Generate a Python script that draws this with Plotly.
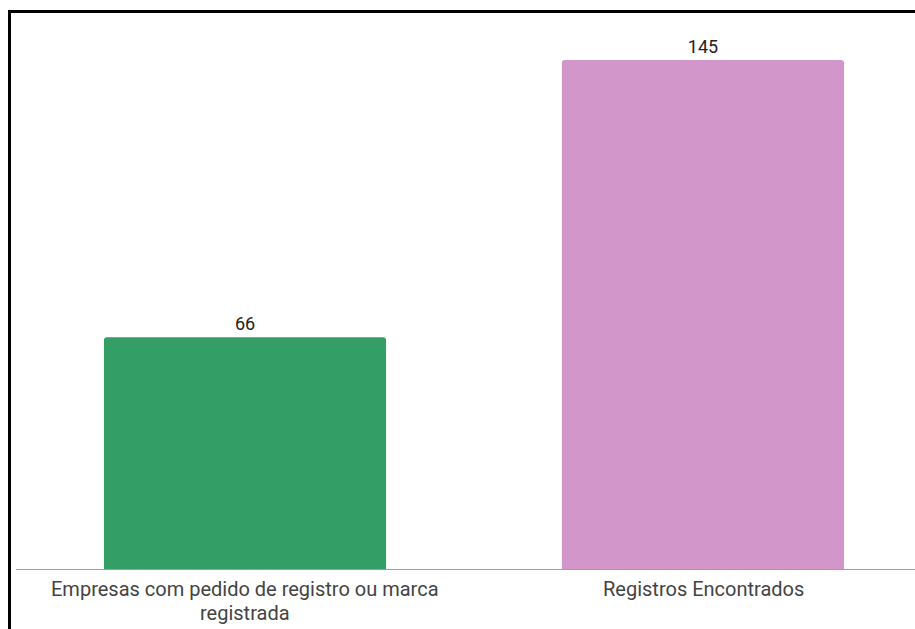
import plotly.graph_objects as go

categories = ["Empresas com pedido de registro ou marca registrada", "Registros Encontrados"]
tick_lines = [["Empresas com pedido de registro ou marca", "registrada"], ["Registros Encontrados"]]
values = [66, 145]
colors = ["#339e66", "#d396cb"]

W, H = 915, 629
L, R, T, B = 16, 0, 20, 60
pw = W - L - R
ph = H - T - B
px_per_unit = 3.51
ymax = ph / px_per_unit


def px2x(p):
    return (p - L) / pw


def py2y(p):
    return (H - B - p) / ph


fig = go.Figure(go.Bar(
    x=categories,
    y=values,
    marker=dict(color=colors, line=dict(width=0), cornerradius=3),
    text=[str(v) for v in values],
    textposition="outside",
    textfont=dict(family="Roboto", size=18, color="#222222"),
    cliponaxis=False,
    hoverinfo="skip",
))

annotations = []
line_gap = 23.5
first_center = 589.0
for cat, lines in zip(categories, tick_lines):
    for i, ln in enumerate(lines):
        annotations.append(dict(
            x=cat, xref="x",
            y=py2y(first_center + i * line_gap), yref="paper",
            text=ln, showarrow=False,
            xanchor="center", yanchor="middle",
            font=dict(family="Roboto", size=20, color="#444444"),
        ))

fig.update_layout(
    width=W, height=H,
    margin=dict(l=L, r=R, t=T, b=B),
    paper_bgcolor="white",
    plot_bgcolor="white",
    bargap=0.384,
    showlegend=False,
    font=dict(family="Roboto", size=14, color="#444444"),
    xaxis=dict(
        range=[-0.5, -0.5 + pw / 458.0],
        showline=True, linecolor="#9e9e9e", linewidth=1,
        showgrid=False, zeroline=False, ticks="",
        showticklabels=False,
        fixedrange=True,
    ),
    yaxis=dict(
        range=[0, ymax],
        visible=False,
        fixedrange=True,
    ),
    annotations=annotations,
    shapes=[
        dict(type="line", xref="paper", yref="paper",
             x0=px2x(8), x1=px2x(W + 5), y0=py2y(11.5), y1=py2y(11.5),
             line=dict(color="black", width=3)),
        dict(type="line", xref="paper", yref="paper",
             x0=px2x(9.5), x1=px2x(9.5), y0=py2y(10), y1=py2y(H + 5),
             line=dict(color="black", width=3)),
    ],
)

fig.write_html(
    "out.html",
    config={"displayModeBar": False},
    post_script="document.body.style.margin='0';document.body.style.overflow='hidden';",
)
